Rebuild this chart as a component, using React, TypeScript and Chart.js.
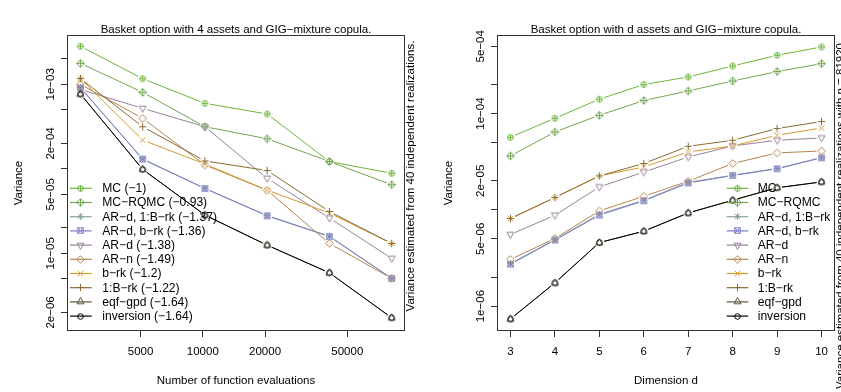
import React, { useEffect, useRef } from "react";
import { Chart, registerables } from "chart.js";

Chart.register(...registerables);

// ---------- data ----------
const seriesNames = ["MC", "MC−RQMC", "AR−d, 1:B−rk", "AR−d, b−rk", "AR−d", "AR−n", "b−rk", "1:B−rk", "eqf−gpd", "inversion"];
const seriesSlopes = ["(−1)", "(−0.93)", "(−1.37)", "(−1.36)", "(−1.38)", "(−1.49)", "(−1.2)", "(−1.22)", "(−1.64)", "(−1.64)"];
const seriesColors = ["#6CB63A", "#72A552", "#89A39B", "#7B7BC6", "#98809A", "#B5844F", "#D39A2C", "#8A6A30", "#5F5340", "#000000"];
const seriesPch = [10, 9, 8, 7, 6, 5, 4, 3, 2, 1];

const nEvals = [2560, 5120, 10240, 20480, 40960, 81920];
const dims = [3, 4, 5, 6, 7, 8, 9, 10];

const leftMC = [2.82e-3, 1.165e-3, 5.96e-4, 4.45e-4, 1.22e-4, 8.85e-5];
const leftRQMC = [1.77e-3, 8.04e-4, 3.15e-4, 2.27e-4, 1.22e-4, 6.49e-5];
const leftARd1B = [9.16e-4, 1.31e-4, 5.88e-5, 2.8e-5, 1.6e-5, 5.06e-6];
const leftARdb = [9.1e-4, 1.3e-4, 5.85e-5, 2.78e-5, 1.58e-5, 5.06e-6];
const leftARd = [8.7e-4, 5.2e-4, 3.15e-4, 7.72e-5, 2.62e-5, 8.73e-6];
const leftARn = [1.0e-3, 3.96e-4, 1.11e-4, 5.57e-5, 1.31e-5, 5.06e-6];
const leftBrk = [1.17e-3, 2.19e-4, 1.14e-4, 5.6e-5, 3.0e-5, 1.31e-5];
const left1Brk = [1.17e-3, 3.15e-4, 1.24e-4, 9.55e-5, 3.13e-5, 1.31e-5];
const leftEqf = [7.67e-4, 9.86e-5, 2.84e-5, 1.25e-5, 5.89e-6, 1.73e-6];
const leftInv = [7.67e-4, 9.86e-5, 2.84e-5, 1.25e-5, 5.89e-6, 1.73e-6];

const rightMC = [5.67e-5, 8.94e-5, 1.41e-4, 2.0e-4, 2.4e-4, 3.12e-4, 4.03e-4, 4.92e-4];
const rightRQMC = [3.63e-5, 6.44e-5, 9.6e-5, 1.365e-4, 1.717e-4, 2.18e-4, 2.73e-4, 3.3e-4];
const rightARd1B = [2.77e-6, 4.91e-6, 9.0e-6, 1.258e-5, 1.93e-5, 2.29e-5, 2.69e-5, 3.49e-5];
const rightARdb = [2.72e-6, 4.85e-6, 8.8e-6, 1.24e-5, 1.9e-5, 2.27e-5, 2.67e-5, 3.47e-5];
const rightARd = [5.54e-6, 8.79e-6, 1.729e-5, 2.47e-5, 3.54e-5, 4.61e-5, 5.28e-5, 5.58e-5];
const rightARn = [3.05e-6, 5.04e-6, 9.74e-6, 1.384e-5, 1.98e-5, 3.03e-5, 3.9e-5, 4.09e-5];
const rightBrk = [8.12e-6, 1.342e-5, 2.25e-5, 2.79e-5, 3.99e-5, 4.61e-5, 5.95e-5, 7.09e-5];
const right1Brk = [8.12e-6, 1.342e-5, 2.25e-5, 3.03e-5, 4.57e-5, 5.28e-5, 6.99e-5, 8.26e-5];
const rightEqf = [7.36e-7, 1.742e-6, 4.57e-6, 6.0e-6, 9.28e-6, 1.258e-5, 1.697e-5, 1.949e-5];
const rightInv = [7.36e-7, 1.742e-6, 4.57e-6, 6.0e-6, 9.28e-6, 1.258e-5, 1.697e-5, 1.949e-5];

const leftXTicks = [5000, 10000, 20000, 50000];
const leftYTicks = [2e-3, 1e-3, 5e-4, 2e-4, 1e-4, 5e-5, 2e-5, 1e-5, 5e-6, 2e-6];
const leftYLabelVals = [1e-3, 2e-4, 5e-5, 1e-5, 2e-6];
const leftYLabels = ["1e−03", "2e−04", "5e−05", "1e−05", "2e−06"];

const rightXTicks = [3, 4, 5, 6, 7, 8, 9, 10];
const rightYTicks = [5e-4, 2e-4, 1e-4, 5e-5, 2e-5, 1e-5, 5e-6, 2e-6, 1e-6];
const rightYLabelVals = [5e-4, 1e-4, 2e-5, 5e-6, 1e-6];
const rightYLabels = ["5e−04", "1e−04", "2e−05", "5e−06", "1e−06"];

const leftTitle = "Basket option with 4 assets and GIG−mixture copula.";
const rightTitle = "Basket option with d assets and GIG−mixture copula.";
const leftXTitle = "Number of function evaluations";
const rightXTitle = "Dimension d";
const yTitle = "Variance";
const leftSide = "Variance estimated from 40 independent realizations.";
const rightSide = "Variance estimated from 40 independent realizations with n = 81920";

// ---------- styling ----------
const FONT = "'Liberation Sans', Arial, Helvetica, sans-serif";
const FS = 11.5;
const LEGEND_FS = 12.1;
const GAP = 5;

function makeMarker(pch: number, color: string): HTMLCanvasElement {
  const s = 13;
  const c = document.createElement("canvas");
  c.width = s;
  c.height = s;
  const g = c.getContext("2d")!;
  g.strokeStyle = color;
  g.lineWidth = 1;
  const m = s / 2;
  const seg = (x1: number, y1: number, x2: number, y2: number) => {
    g.beginPath();
    g.moveTo(m + x1, m + y1);
    g.lineTo(m + x2, m + y2);
    g.stroke();
  };
  const circle = (r: number) => {
    g.beginPath();
    g.arc(m, m, r, 0, Math.PI * 2);
    g.stroke();
  };
  const poly = (pts: number[][]) => {
    g.beginPath();
    pts.forEach((p, i) => (i === 0 ? g.moveTo(m + p[0], m + p[1]) : g.lineTo(m + p[0], m + p[1])));
    g.closePath();
    g.stroke();
  };
  const plus = (r: number) => {
    seg(-r, 0, r, 0);
    seg(0, -r, 0, r);
  };
  const cross = (r: number) => {
    seg(-r, -r, r, r);
    seg(-r, r, r, -r);
  };
  switch (pch) {
    case 1:
      circle(2.8);
      break;
    case 2:
      poly([[0, -3.9], [3.5, 2.3], [-3.5, 2.3]]);
      break;
    case 3:
      plus(3.7);
      break;
    case 4:
      cross(2.7);
      break;
    case 5:
      poly([[0, -3.8], [3.8, 0], [0, 3.8], [-3.8, 0]]);
      break;
    case 6:
      poly([[0, 3.9], [3.5, -2.3], [-3.5, -2.3]]);
      break;
    case 7:
      g.strokeRect(m - 2.7, m - 2.7, 5.4, 5.4);
      cross(2.7);
      break;
    case 8:
      plus(3.5);
      cross(2.6);
      break;
    case 9:
      poly([[0, -3.8], [3.8, 0], [0, 3.8], [-3.8, 0]]);
      plus(3.8);
      break;
    case 10:
      circle(2.9);
      plus(2.9);
      break;
  }
  return c;
}

type PanelCfg = {
  xType: "logarithmic" | "linear";
  xValues: number[];
  xMin: number;
  xMax: number;
  xTicks: number[];
  yMin: number;
  yMax: number;
  yTicks: number[];
  yLabelVals: number[];
  yLabels: string[];
  series: number[][];
  padRight: number;
  yWidth: number;
  title: string;
  xTitle: string;
  sideText: string;
  sideX: number;
  sideY: number;
  sideAlign: CanvasTextAlign;
  legendLineX0: number;
  legendLineX1: number;
  legendMarkX: number;
  legendTextX: number;
  withSlopes: boolean;
};

function buildChart(canvas: HTMLCanvasElement, cfg: PanelCfg, markers: HTMLCanvasElement[]) {
  const font = `${FS}px ${FONT}`;
  const legendFont = `${LEGEND_FS}px ${FONT}`;
  const plugin = {
    id: "rstyle",
    beforeDatasetsDraw(chart: any) {
      const ctx = chart.ctx as CanvasRenderingContext2D;
      chart.data.datasets.forEach((ds: any, i: number) => {
        const pts = chart.getDatasetMeta(i).data;
        ctx.save();
        ctx.strokeStyle = seriesColors[i];
        ctx.lineWidth = 1;
        for (let j = 0; j < pts.length - 1; j++) {
          const a = pts[j];
          const b = pts[j + 1];
          const dx = b.x - a.x;
          const dy = b.y - a.y;
          const L = Math.hypot(dx, dy);
          if (L <= 2 * GAP) continue;
          const ux = dx / L;
          const uy = dy / L;
          ctx.beginPath();
          ctx.moveTo(a.x + ux * GAP, a.y + uy * GAP);
          ctx.lineTo(b.x - ux * GAP, b.y - uy * GAP);
          ctx.stroke();
        }
        ctx.restore();
      });
    },
    afterDraw(chart: any) {
      const ctx = chart.ctx as CanvasRenderingContext2D;
      const a = chart.chartArea;
      ctx.save();
      // box
      ctx.strokeStyle = "#333";
      ctx.lineWidth = 1;
      ctx.strokeRect(a.left - 0.5, a.top - 0.5, a.right - a.left + 1, a.bottom - a.top + 1);
      ctx.fillStyle = "#000";
      ctx.font = font;
      // title
      ctx.textAlign = "center";
      ctx.textBaseline = "alphabetic";
      ctx.fillText(cfg.title, (a.left + a.right) / 2, 32.5);
      // x title
      ctx.fillText(cfg.xTitle, (a.left + a.right) / 2, 384.3);
      // y tick labels (rotated)
      const ys = chart.scales.y;
      cfg.yLabelVals.forEach((v, k) => {
        const py = ys.getPixelForValue(v);
        ctx.save();
        ctx.translate(a.left - 14.5, py);
        ctx.rotate(-Math.PI / 2);
        ctx.textAlign = "center";
        ctx.fillText(cfg.yLabels[k], 0, 0);
        ctx.restore();
      });
      // y title
      ctx.save();
      ctx.translate(a.left - 46.4, (a.top + a.bottom) / 2);
      ctx.rotate(-Math.PI / 2);
      ctx.textAlign = "center";
      ctx.fillText(yTitle, 0, 0);
      ctx.restore();
      // side text
      ctx.save();
      ctx.translate(cfg.sideX, cfg.sideY);
      ctx.rotate(-Math.PI / 2);
      ctx.textAlign = cfg.sideAlign;
      ctx.fillText(cfg.sideText, 0, 0);
      ctx.restore();
      // legend
      ctx.font = legendFont;
      for (let k = 0; k < seriesNames.length; k++) {
        const y = 188.3 + k * 14.2;
        ctx.strokeStyle = seriesColors[k];
        ctx.lineWidth = 1.2;
        ctx.beginPath();
        ctx.moveTo(cfg.legendLineX0, y);
        ctx.lineTo(cfg.legendLineX1, y);
        ctx.stroke();
        const mk = markers[k];
        ctx.drawImage(mk, Math.round(cfg.legendMarkX - mk.width / 2), Math.round(y - mk.height / 2));
        ctx.fillStyle = "#000";
        ctx.textAlign = "left";
        ctx.textBaseline = "middle";
        const label = cfg.withSlopes ? `${seriesNames[k]} ${seriesSlopes[k]}` : seriesNames[k];
        ctx.fillText(label, cfg.legendTextX, y + 0.5);
      }
      ctx.restore();
    },
  };

  const datasets = cfg.series.map((vals, i) => ({
    label: seriesNames[i],
    data: cfg.xValues.map((x, j) => ({ x, y: vals[j] })),
    showLine: false,
    pointStyle: markers[i] as any,
    pointRadius: 3,
    borderColor: seriesColors[i],
    backgroundColor: seriesColors[i],
    order: seriesNames.length - 1 - i,
  }));

  const tickGrid = {
    display: true,
    drawOnChartArea: false,
    drawTicks: true,
    tickLength: 7,
    color: "#333",
    lineWidth: 1,
  };

  return new Chart(canvas, {
    type: "line",
    data: { datasets } as any,
    plugins: [plugin],
    options: {
      responsive: false,
      animation: false,
      events: [],
      layout: { padding: { top: 36, right: cfg.padRight, left: 0, bottom: 0 } },
      plugins: { legend: { display: false }, tooltip: { enabled: false }, title: { display: false } },
      scales: {
        x: {
          type: cfg.xType,
          position: "bottom",
          min: cfg.xMin,
          max: cfg.xMax,
          afterBuildTicks: (s: any) => {
            s.ticks = cfg.xTicks.map((v) => ({ value: v }));
          },
          afterFit: (s: any) => {
            s.height = 62;
            s.paddingLeft = 0;
            s.paddingRight = 0;
            s.paddingTop = 0;
            s.paddingBottom = 0;
          },
          grid: tickGrid,
          border: { display: false },
          ticks: {
            color: "#000",
            font: { family: FONT, size: FS },
            padding: 8,
            autoSkip: false,
            maxRotation: 0,
            minRotation: 0,
            callback: (v: any) => String(v),
          },
        },
        y: {
          type: "logarithmic",
          position: "left",
          min: cfg.yMin,
          max: cfg.yMax,
          afterBuildTicks: (s: any) => {
            s.ticks = cfg.yTicks.map((v) => ({ value: v }));
          },
          afterFit: (s: any) => {
            s.width = cfg.yWidth;
            s.paddingLeft = 0;
            s.paddingRight = 0;
            s.paddingTop = 0;
            s.paddingBottom = 0;
          },
          grid: tickGrid,
          border: { display: false },
          ticks: { display: false },
        },
      },
    } as any,
  });
}

export default function App() {
  const leftRef = useRef<HTMLCanvasElement>(null);
  const rightRef = useRef<HTMLCanvasElement>(null);

  useEffect(() => {
    const markers = seriesPch.map((p, i) => makeMarker(p, seriesColors[i]));
    const c1 = buildChart(
      leftRef.current!,
      {
        xType: "logarithmic",
        xValues: nEvals,
        xMin: 2229,
        xMax: 94000,
        xTicks: leftXTicks,
        yMin: 1.24e-6,
        yMax: 3.73e-3,
        yTicks: leftYTicks,
        yLabelVals: leftYLabelVals,
        yLabels: leftYLabels,
        series: [leftMC, leftRQMC, leftARd1B, leftARdb, leftARd, leftARn, leftBrk, left1Brk, leftEqf, leftInv],
        padRight: 16,
        yWidth: 68,
        title: leftTitle,
        xTitle: leftXTitle,
        sideText: leftSide,
        sideX: 414,
        sideY: 176,
        sideAlign: "center",
        legendLineX0: 70,
        legendLineX1: 91.7,
        legendMarkX: 80.8,
        legendTextX: 102.3,
        withSlopes: true,
      },
      markers
    );
    const c2 = buildChart(
      rightRef.current!,
      {
        xType: "linear",
        xValues: dims,
        xMin: 2.72,
        xMax: 10.28,
        xTicks: rightXTicks,
        yMin: 5.65e-7,
        yMax: 6.39e-4,
        yTicks: rightYTicks,
        yLabelVals: rightYLabelVals,
        yLabels: rightYLabels,
        series: [rightMC, rightRQMC, rightARd1B, rightARdb, rightARd, rightARn, rightBrk, right1Brk, rightEqf, rightInv],
        padRight: 7,
        yWidth: 78,
        title: rightTitle,
        xTitle: rightXTitle,
        sideText: rightSide,
        sideX: 423.5,
        sideY: 389,
        sideAlign: "left",
        legendLineX0: 306.7,
        legendLineX1: 328.3,
        legendMarkX: 317.5,
        legendTextX: 337.7,
        withSlopes: false,
      },
      markers
    );
    return () => {
      c1.destroy();
      c2.destroy();
    };
  }, []);

  return (
    <div style={{ position: "absolute", left: 0, top: 0, width: 841, height: 392, background: "#fff", overflow: "hidden" }}>
      <canvas ref={leftRef} width={420} height={392} style={{ position: "absolute", left: 0, top: 0 }} />
      <canvas ref={rightRef} width={421} height={392} style={{ position: "absolute", left: 420, top: 0 }} />
    </div>
  );
}
